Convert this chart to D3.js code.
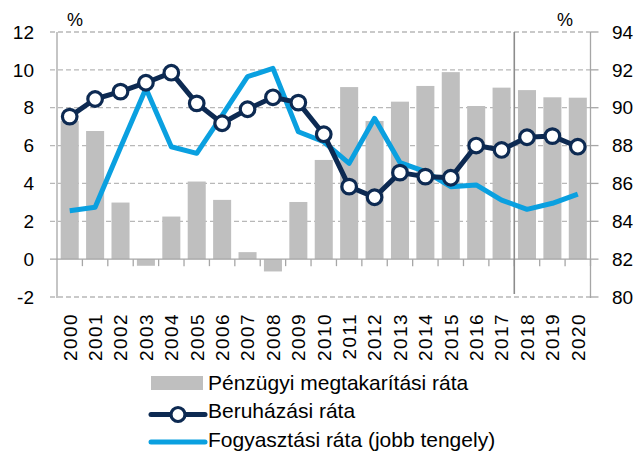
<!DOCTYPE html>
<html lang="hu">
<head>
  <meta charset="UTF-8">
  <title>Megtakarítási, beruházási és fogyasztási ráta</title>
  <script src="https://d3js.org/d3.v7.min.js"></script>
  <style>
    body { margin: 0; background: #fff; }
    text { font-family: "Liberation Sans", Arial, sans-serif; fill: #000; }
  </style>
</head>
<body>
  <script>
    var width = 638;
    var height = 454;

    // adatok
    var years = ['2000', '2001', '2002', '2003', '2004', '2005', '2006', '2007', '2008', '2009', '2010',
      '2011', '2012', '2013', '2014', '2015', '2016', '2017', '2018', '2019', '2020'];
    var megtakaritas = [7.3, 6.77, 2.99, -0.35, 2.25, 4.1, 3.13, 0.37, -0.65, 3.02, 5.24,
      9.09, 7.3, 8.32, 9.15, 9.88, 8.09, 9.06, 8.93, 8.55, 8.53];
    var beruhazas = [7.53, 8.46, 8.85, 9.32, 9.85, 8.23, 7.18, 7.92, 8.55, 8.27, 6.6,
      3.83, 3.27, 4.57, 4.36, 4.3, 6.0, 5.77, 6.44, 6.5, 5.94];
    var fogyasztas = [84.56, 84.74, 87.9, 91.02, 87.94, 87.59, 89.6, 91.64, 92.08, 88.73, 88.2,
      87.06, 89.44, 87.1, 86.62, 85.83, 85.92, 85.12, 84.63, 84.95, 85.44];
    var leftTicks = [-2, 0, 2, 4, 6, 8, 10, 12];
    var rightTicks = [80, 82, 84, 86, 88, 90, 92, 94];
    var legendLabels = ['Pénzügyi megtakarítási ráta', 'Beruházási ráta', 'Fogyasztási ráta (jobb tengely)'];
    var splitYear = '2018'; // előrejelzés kezdete

    var navy = '#0d2a52';
    var blue = '#0aa0e0';
    var barColor = '#bfbfbf';
    var axisColor = '#a6a6a6';

    var margin = { top: 32, left: 57, right: 47.5, bottom: 157 };
    var x0 = margin.left, x1 = width - margin.right;
    var yTop = margin.top, yBot = height - margin.bottom;

    var svg = d3.select('body').append('svg')
      .attr('width', width)
      .attr('height', height);

    var cell = d3.scaleBand().domain(years).range([x0, x1]).padding(0);
    var xBar = d3.scaleBand().domain(years).range([x0, x1])
      .paddingInner(0.29).paddingOuter(0.145);
    var yL = d3.scaleLinear().domain([-2, 12]).range([yBot, yTop]);
    var yR = d3.scaleLinear().domain([80, 94]).range([yBot, yTop]);

    // rácsvonalak
    svg.append('g').selectAll('line')
      .data(leftTicks.filter(function (d) { return d !== 0; }))
      .enter().append('line')
      .attr('x1', x0 - 7).attr('x2', x1)
      .attr('y1', function (d) { return yL(d); })
      .attr('y2', function (d) { return yL(d); })
      .attr('stroke', '#b8b8b8')
      .attr('stroke-width', 1.3)
      .attr('stroke-dasharray', '5,3');

    // oszlopok
    svg.append('g').selectAll('rect')
      .data(megtakaritas)
      .enter().append('rect')
      .attr('x', function (d, i) { return xBar(years[i]); })
      .attr('width', xBar.bandwidth())
      .attr('y', function (d) { return yL(Math.max(0, d)); })
      .attr('height', function (d) { return Math.abs(yL(d) - yL(0)); })
      .attr('fill', barColor);

    // tengelyek
    var ax = svg.append('g').attr('stroke', axisColor).attr('stroke-width', 1.3);
    ax.append('line').attr('x1', x0).attr('x2', x0).attr('y1', yTop).attr('y2', yBot + 1);
    ax.append('line').attr('x1', x1).attr('x2', x1).attr('y1', yTop).attr('y2', yBot + 1);
    ax.append('line').attr('x1', x0 - 7).attr('x2', x1).attr('y1', yL(0)).attr('y2', yL(0));
    ax.selectAll('.rt').data(rightTicks).enter().append('line')
      .attr('x1', x1).attr('x2', x1 + 8)
      .attr('y1', function (d) { return yR(d); })
      .attr('y2', function (d) { return yR(d); });
    ax.selectAll('.xt').data(years.slice(1).concat(['end'])).enter().append('line')
      .attr('x1', function (d, i) { return cell(years[i]) + cell.bandwidth(); })
      .attr('x2', function (d, i) { return cell(years[i]) + cell.bandwidth(); })
      .attr('y1', yL(0)).attr('y2', yL(0) + 7);
    ax.append('line')
      .attr('x1', cell(splitYear)).attr('x2', cell(splitYear))
      .attr('y1', yTop).attr('y2', yBot - 3)
      .attr('stroke', '#8c8c8c').attr('stroke-width', 1.6);

    // tengelyfeliratok
    svg.append('g').selectAll('text').data(leftTicks).enter().append('text')
      .attr('x', 34).attr('y', function (d) { return yL(d); })
      .attr('dy', '0.35em').attr('text-anchor', 'end')
      .attr('font-size', '19px')
      .text(function (d) { return d; });
    svg.append('g').selectAll('text').data(rightTicks).enter().append('text')
      .attr('x', 612).attr('y', function (d) { return yR(d); })
      .attr('dy', '0.35em').attr('text-anchor', 'start')
      .attr('font-size', '19px')
      .text(function (d) { return d; });
    svg.append('text').attr('x', 67).attr('y', 26).attr('font-size', '18px').text('%');
    svg.append('text').attr('x', 557).attr('y', 26).attr('font-size', '18px').text('%');

    svg.append('g').selectAll('text').data(years).enter().append('text')
      .attr('transform', function (d) {
        return 'translate(' + (cell(d) + cell.bandwidth() / 2) + ',313) rotate(-90)';
      })
      .attr('dy', '0.36em').attr('text-anchor', 'end')
      .attr('font-size', '19px')
      .attr('letter-spacing', '1.4px')
      .text(function (d) { return d; });

    // vonalak
    var cx = function (d, i) { return cell(years[i]) + cell.bandwidth() / 2; };
    svg.append('path').datum(fogyasztas)
      .attr('fill', 'none').attr('stroke', blue).attr('stroke-width', 5)
      .attr('stroke-linejoin', 'round')
      .attr('d', d3.line().x(cx).y(function (d) { return yR(d); }));
    svg.append('path').datum(beruhazas)
      .attr('fill', 'none').attr('stroke', navy).attr('stroke-width', 5)
      .attr('stroke-linejoin', 'round')
      .attr('d', d3.line().x(cx).y(function (d) { return yL(d); }));
    svg.append('g').selectAll('circle').data(beruhazas).enter().append('circle')
      .attr('cx', cx).attr('cy', function (d) { return yL(d); })
      .attr('r', 7.3)
      .attr('fill', '#fff').attr('stroke', navy).attr('stroke-width', 3.2);

    // jelmagyarázat
    var lg = svg.append('g');
    var lx = 151, rowY = [390, 418, 446.5];
    lg.append('rect').attr('x', lx).attr('y', 376).attr('width', 52).attr('height', 14).attr('fill', barColor);
    lg.append('line').attr('x1', lx).attr('x2', lx + 54).attr('y1', 414.5).attr('y2', 414.5)
      .attr('stroke', navy).attr('stroke-width', 5).attr('stroke-linecap', 'round');
    lg.append('circle').attr('cx', lx + 27).attr('cy', 414.5).attr('r', 7)
      .attr('fill', '#fff').attr('stroke', navy).attr('stroke-width', 3.2);
    lg.append('line').attr('x1', lx).attr('x2', lx + 54).attr('y1', 442).attr('y2', 442)
      .attr('stroke', blue).attr('stroke-width', 5).attr('stroke-linecap', 'round');
    lg.selectAll('text').data(legendLabels).enter().append('text')
      .attr('x', 208).attr('y', function (d, i) { return rowY[i]; })
      .attr('font-size', '21px')
      .text(function (d) { return d; });
  </script>
</body>
</html>
